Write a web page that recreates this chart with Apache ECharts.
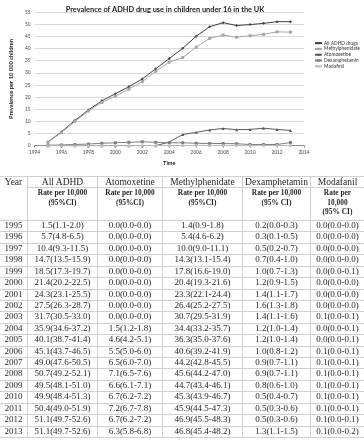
<!DOCTYPE html>
<html><head><meta charset="utf-8">
<script src="https://cdn.jsdelivr.net/npm/echarts@6/dist/echarts.min.js"></script>
<style>
html,body{margin:0;padding:0;background:#fff;}
#chart{position:absolute;left:0;top:0;width:364px;height:440px;}
#table{position:absolute;left:0;top:0;width:364px;height:440px;font-family:'Liberation Serif','DejaVu Serif',serif;color:#262626;}
.cell{position:absolute;box-sizing:border-box;text-align:center;white-space:nowrap;overflow:visible;}
</style></head>
<body>
<div id="chart"></div>
<div id="table"></div>
<script>
// ---- data ----
const years = [1995,1996,1997,1998,1999,2000,2001,2002,2003,2004,2005,2006,2007,2008,2009,2010,2011,2012,2013];
const allAdhd = [1.5,5.7,10.4,14.7,18.5,21.4,24.3,27.5,31.7,35.9,40.1,45.1,49.0,50.7,49.5,49.9,50.4,51.1,51.1];
const allAdhdCI = ['1.1-2.0','4.8-6.5','9.3-11.5','13.5-15.9','17.3-19.7','20.2-22.5','23.1-25.5','26.3-28.7','30.5-33.0','34.6-37.2','38.7-41.4','43.7-46.5','47.6-50.5','49.2-52.1','48.1-51.0','48.4-51.3','49.0-51.9','49.7-52.6','49.7-52.6'];
const atomoxetine = [0.0,0.0,0.0,0.0,0.0,0.0,0.0,0.0,0.0,1.5,4.6,5.5,6.5,7.1,6.6,6.7,7.2,6.7,6.3];
const atomoxetineCI = ['0.0-0.0','0.0-0.0','0.0-0.0','0.0-0.0','0.0-0.0','0.0-0.0','0.0-0.0','0.0-0.0','0.0-0.0','1.2-1.8','4.2-5.1','5.0-6.0','6.0-7.0','6.5-7.6','6.1-7.1','6.2-7.2','6.7-7.8','6.2-7.2','5.8-6.8'];
const methylphenidate = [1.4,5.4,10.0,14.3,17.8,20.4,23.3,26.4,30.7,34.4,36.3,40.6,44.2,45.6,44.7,45.3,45.9,46.9,46.8];
const methylphenidateCI = ['0.9-1.8','4.6-6.2','9.0-11.1','13.1-15.4','16.6-19.0','19.3-21.6','22.1-24.4','25.2-27.5','29.5-31.9','33.2-35.7','35.0-37.6','39.2-41.9','42.8-45.5','44.2-47.0','43.4-46.1','43.9-46.7','44.5-47.3','45.5-48.3','45.4-48.2'];
const dexamphetamin = [0.2,0.3,0.5,0.7,1.0,1.2,1.4,1.6,1.4,1.2,1.2,1.0,0.9,0.9,0.8,0.5,0.5,0.5,1.3];
const dexamphetaminCI = ['0.0-0.3','0.1-0.5','0.2-0.7','0.4-1.0','0.7-1.3','0.9-1.5','1.1-1.7','1.3-1.8','1.1-1.6','1.0-1.4','1.0-1.4','0.8-1.2','0.7-1.1','0.7-1.1','0.6-1.0','0.4-0.7','0.3-0.6','0.3-0.6','1.1-1.5'];
const modafinil = [0.0,0.0,0.0,0.0,0.0,0.0,0.0,0.0,0.1,0.0,0.0,0.1,0.1,0.1,0.1,0.1,0.1,0.1,0.1];
const modafinilCI = ['0.0-0.0','0.0-0.0','0.0-0.0','0.0-0.0','0.0-0.1','0.0-0.0','0.0-0.0','0.0-0.0','0.0-0.1','0.0-0.1','0.0-0.1','0.0-0.1','0.0-0.1','0.0-0.1','0.0-0.1','0.0-0.1','0.0-0.1','0.0-0.1','0.0-0.2'];
const seriesNames = ['All ADHD drugs','Methylphenidate','Atomoxetine','Dexamphetamin','Modafinil'];
const tableHeaders = ['Year','All ADHD','Atomoxetine','Methylphenidate','Dexamphetamin','Modafanil'];
const rateHeaders = ['', 'Rate per 10,000<br>(95%CI)','Rate per 10,000<br>(95%CI)','Rate per 10,000<br>(95%CI)','Rate per 10,000<br>(95% CI)','Rate per<br>10,000<br>(95% CI)'];
const chartTitle = 'Prevalence of ADHD drug use in children under 16 in the UK';
const xTitle = 'Time';
const yTitle = 'Prevalence per 10 000 children';

// ---- chart ----
const pairs = arr => years.map((y,i)=>[y,arr[i]]);
const chart = echarts.init(document.getElementById('chart'), null, {renderer:'canvas'});
const colors = ['#404040','#a6a6a6','#5a5a5a','#808080','#bdbdbd'];
const symbols = ['diamond','rect','triangle','rect','circle'];
const dataSets = [allAdhd, methylphenidate, atomoxetine, dexamphetamin, modafinil];
chart.setOption({
  animation:false,
  title:{text:chartTitle,left:160,top:1,textAlign:'center',textStyle:{fontFamily:'Lato',fontSize:7.4,fontWeight:'bold',color:'#1a1a1a'}},
  legend:{orient:'vertical',left:309,top:35.5,itemWidth:7,itemHeight:3,itemGap:0.6,
    textStyle:{fontFamily:'Lato',fontSize:4.8,color:'#333',lineHeight:5.2,padding:[0,0,0,-3]},
    data:seriesNames},
  grid:{left:33,right:60,top:12.2,bottom:294.3},
  xAxis:{type:'value',min:1994,max:2014,interval:2,name:xTitle,nameLocation:'middle',nameGap:15,
    nameTextStyle:{fontFamily:'Lato',fontSize:5.5,fontWeight:'bold',color:'#1a1a1a'},
    axisLine:{lineStyle:{color:'#8c8c8c',width:1}},axisTick:{show:true,length:2,lineStyle:{color:'#8c8c8c'}},
    axisLabel:{fontFamily:'Lato',fontSize:4.8,color:'#444',margin:4,formatter:v=>String(v)},splitLine:{show:false}},
  yAxis:{type:'value',min:0,max:55,interval:5,name:yTitle,nameLocation:'middle',nameGap:20,nameRotate:90,
    nameTextStyle:{fontFamily:'Lato',fontSize:5.8,fontWeight:'bold',color:'#1a1a1a'},
    axisLine:{show:false},axisTick:{show:false},
    axisLabel:{fontFamily:'Lato',fontSize:4.8,color:'#444',margin:4},
    splitLine:{lineStyle:{color:'#d9d9d9',width:1}}},
  series:dataSets.map((d,i)=>({name:seriesNames[i],type:'line',data:pairs(d),color:colors[i],
    symbol:symbols[i],symbolSize:3,showSymbol:true,lineStyle:{width:1,color:colors[i]},itemStyle:{color:colors[i]}}))
});

// ---- table ----
const tbl = document.getElementById('table');
const colX = [0,27,97,162,242,310,364];
const border = '1px solid #d0d0d0';
const tTop = 176, h1 = 11, h2 = 33, rowH = 11.42;
function cell(x,y,w,h,html,style){
  const d=document.createElement('div');d.className='cell';
  d.style.left=x+'px';d.style.top=y+'px';d.style.width=w+'px';d.style.height=h+'px';
  Object.assign(d.style,style||{});d.innerHTML=html;tbl.appendChild(d);
}
// header row 1
for(let c=0;c<6;c++){
  const h = c===0 ? h1+h2 : h1;
  cell(colX[c],tTop,colX[c+1]-colX[c],h+1,tableHeaders[c],{fontSize:'9.5px',lineHeight:(h1)+'px',
    borderTop:border,borderLeft:c===0?'none':border,borderBottom:c===0?'none':border});
}
// header row 2
for(let c=1;c<6;c++){
  cell(colX[c],tTop+h1,colX[c+1]-colX[c],h2+1,rateHeaders[c],{fontSize:'7.4px',fontWeight:'bold',lineHeight:'9.6px',paddingTop:'1px',
    borderLeft:border,borderBottom:border});
}
cell(colX[0],tTop+h1+h2,colX[1],1,'',{borderBottom:border});
// data rows
const cols = [allAdhd,atomoxetine,methylphenidate,dexamphetamin,modafinil];
const cis = [allAdhdCI,atomoxetineCI,methylphenidateCI,dexamphetaminCI,modafinilCI];
const dTop = tTop+h1+h2;
years.forEach((yr,i)=>{
  const y = dTop + i*rowH;
  for(let c=0;c<6;c++){
    const txt = c===0 ? String(yr) : cols[c-1][i].toFixed(1)+'('+cis[c-1][i]+')';
    cell(colX[c],y,colX[c+1]-colX[c],rowH+1,txt,{fontSize:'9px',lineHeight:(rowH)+'px',
      borderLeft:c===0?'none':border,borderBottom:border});
  }
});
</script>
</body></html>
